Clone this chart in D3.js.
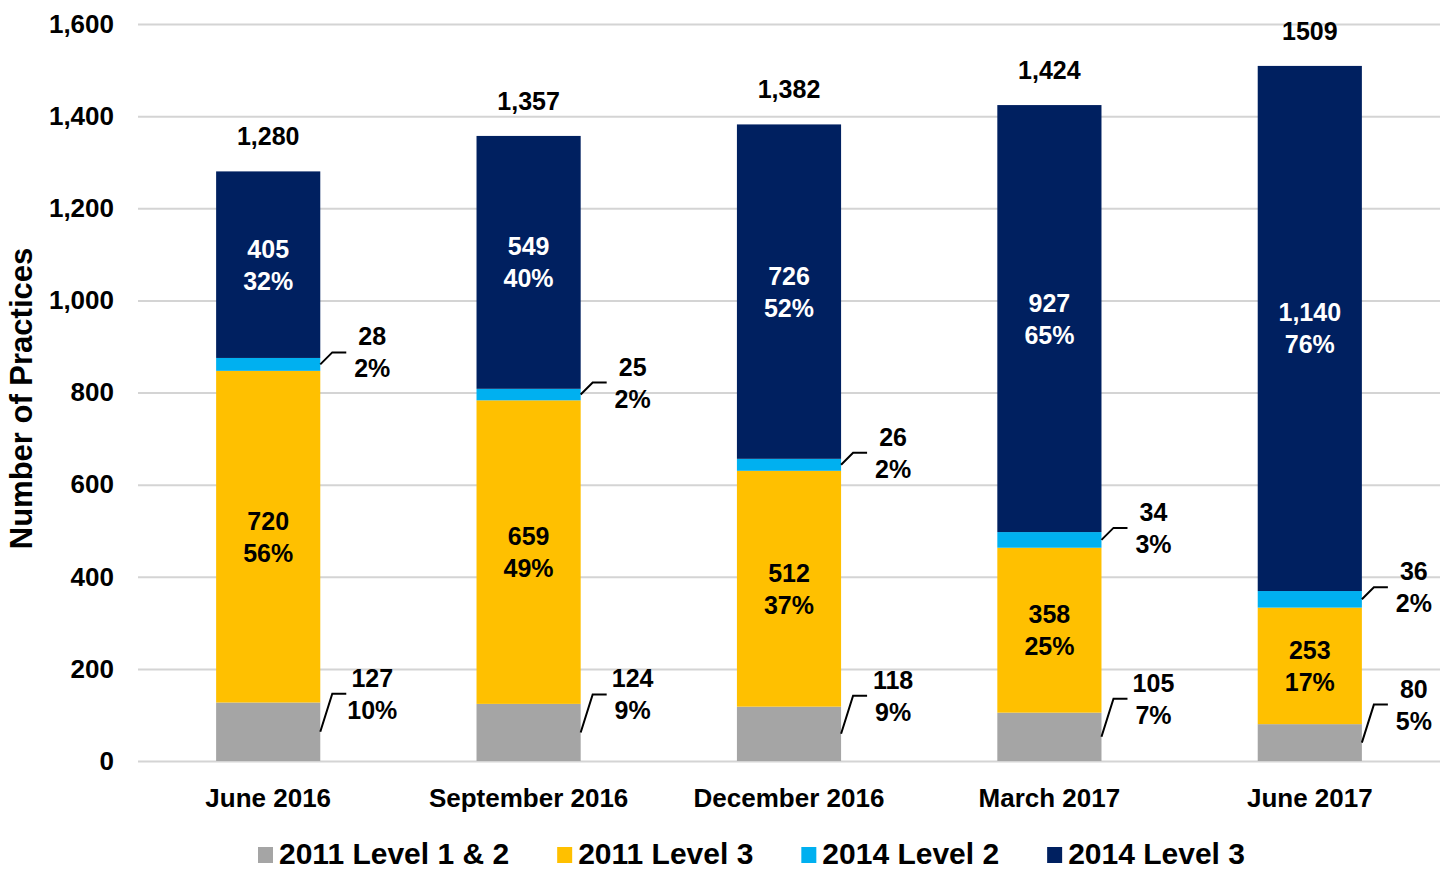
<!DOCTYPE html>
<html>
<head>
<meta charset="utf-8">
<script src="https://cdn.jsdelivr.net/npm/d3@7"></script>
<style>
  body { margin: 0; background: #fff; }
  text { font-family: "Liberation Sans", Arial, sans-serif; font-weight: bold; }
</style>
</head>
<body>
<script>
// chart data
const categories = ["June 2016", "September 2016", "December 2016", "March 2017", "June 2017"];
const seriesNames = ["2011 Level 1 & 2", "2011 Level 3", "2014 Level 2", "2014 Level 3"];
const level12of2011 = [127, 124, 118, 105, 80];
const level3of2011 = [720, 659, 512, 358, 253];
const level2of2014 = [28, 25, 26, 34, 36];
const level3of2014 = [405, 549, 726, 927, 1140];
const pct12of2011 = [10, 9, 9, 7, 5];
const pct3of2011 = [56, 49, 37, 25, 17];
const pct2of2014 = [2, 2, 2, 3, 2];
const pct3of2014 = [32, 40, 52, 65, 76];
const totalLabels = ["1,280", "1,357", "1,382", "1,424", "1509"];
const yTicks = [0, 200, 400, 600, 800, 1000, 1200, 1400, 1600];
const colors = ["#a5a5a5", "#ffc000", "#00b0f0", "#002060"];

const values = [level12of2011, level3of2011, level2of2014, level3of2014];
const pcts = [pct12of2011, pct3of2011, pct2of2014, pct3of2014];

const width = 1445, height = 871;
const plotLeft = 138, plotRight = 1440, plotTop = 24, plotBottom = 761;

const svg = d3.select("body").append("svg")
  .attr("width", width)
  .attr("height", height);

// rows for the stack
const rows = categories.map((c, i) => {
  const r = { cat: c, i: i };
  seriesNames.forEach((s, k) => r[s] = values[k][i]);
  return r;
});
const stacked = d3.stack().keys(seriesNames)(rows);

const x = d3.scaleBand().domain(categories).range([plotLeft, plotRight])
  .paddingInner(0.6).paddingOuter(0.3);
const y = d3.scaleLinear().domain([0, 1600]).range([plotBottom, plotTop]);
const color = d3.scaleOrdinal().domain(seriesNames).range(colors);

// gridlines
svg.append("g")
  .attr("transform", `translate(${plotLeft},0)`)
  .call(d3.axisLeft(y).tickValues(yTicks).tickSize(-(plotRight - plotLeft)).tickFormat(""))
  .call(g => g.select(".domain").remove())
  .call(g => g.selectAll("line").attr("stroke", "#d4d4d4").attr("stroke-width", 2));

// y tick labels
svg.append("g")
  .attr("transform", `translate(${plotLeft},0)`)
  .call(d3.axisLeft(y).tickValues(yTicks).tickSize(0).tickPadding(24).tickFormat(d3.format(",")))
  .call(g => g.select(".domain").remove())
  .call(g => g.selectAll("text").attr("font-size", 26).attr("fill", "#000")
    .attr("font-family", "'Liberation Sans', Arial, sans-serif").attr("font-weight", "bold"));

// y title
svg.append("text")
  .attr("transform", `translate(32,${(plotTop + plotBottom) / 2 + 6}) rotate(-90)`)
  .attr("text-anchor", "middle")
  .attr("font-size", 31)
  .text("Number of Practices");

// x axis labels
svg.append("g")
  .attr("transform", `translate(0,${plotBottom})`)
  .call(d3.axisBottom(x).tickSize(0).tickPadding(28))
  .call(g => g.select(".domain").remove())
  .call(g => g.selectAll("text").attr("font-size", 26).attr("fill", "#000")
    .attr("font-family", "'Liberation Sans', Arial, sans-serif").attr("font-weight", "bold"));

// bars
svg.append("g").selectAll("g")
  .data(stacked)
  .join("g")
  .attr("fill", d => color(d.key))
  .selectAll("rect")
  .data(d => d)
  .join("rect")
  .attr("x", d => x(d.data.cat))
  .attr("y", d => y(d[1]))
  .attr("width", x.bandwidth())
  .attr("height", d => y(d[0]) - y(d[1]));

const fmt = d3.format(",");
const lineGap = 16;

// labels inside the big segments
[1, 3].forEach(k => {
  const g = svg.append("g").attr("fill", k === 3 ? "#fff" : "#000").attr("font-size", 25)
    .attr("text-anchor", "middle");
  stacked[k].forEach((d, i) => {
    const cx = x(d.data.cat) + x.bandwidth() / 2;
    const cy = (y(d[0]) + y(d[1])) / 2;
    g.append("text").attr("x", cx).attr("y", cy - lineGap).attr("dy", "0.36em").text(fmt(values[k][i]));
    g.append("text").attr("x", cx).attr("y", cy + lineGap).attr("dy", "0.36em").text(pcts[k][i] + "%");
  });
});

// labels beside the small segments, with leader lines
[[0, 38], [2, 12]].forEach(([k, lift]) => {
  const g = svg.append("g").attr("font-size", 25).attr("text-anchor", "middle");
  stacked[k].forEach((d, i) => {
    const bx = x(d.data.cat) + x.bandwidth();
    const cy = (y(d[0]) + y(d[1])) / 2;
    const ly = cy - lift;
    g.append("path")
      .attr("d", `M${bx},${cy}L${bx + 12},${ly}L${bx + 26},${ly}`)
      .attr("fill", "none").attr("stroke", "#000").attr("stroke-width", 2);
    g.append("text").attr("x", bx + 52).attr("y", ly - lineGap).attr("dy", "0.36em").text(fmt(values[k][i]));
    g.append("text").attr("x", bx + 52).attr("y", ly + lineGap).attr("dy", "0.36em").text(pcts[k][i] + "%");
  });
});

// totals on top
svg.append("g").attr("font-size", 25).attr("text-anchor", "middle")
  .selectAll("text")
  .data(stacked[3])
  .join("text")
  .attr("x", d => x(d.data.cat) + x.bandwidth() / 2)
  .attr("y", d => y(d[1]) - 26)
  .text((d, i) => totalLabels[i]);

// legend
const legend = svg.append("g").attr("transform", "translate(258,853)");
let lx = 0;
seriesNames.forEach((s, k) => {
  legend.append("rect").attr("x", lx).attr("y", -6).attr("width", 15).attr("height", 16).attr("fill", colors[k]);
  const t = legend.append("text").attr("x", lx + 21).attr("y", 0).attr("dy", "0.36em")
    .attr("font-size", 30).text(s);
  lx += 21 + t.node().getComputedTextLength() + 48;
});
</script>
</body>
</html>
